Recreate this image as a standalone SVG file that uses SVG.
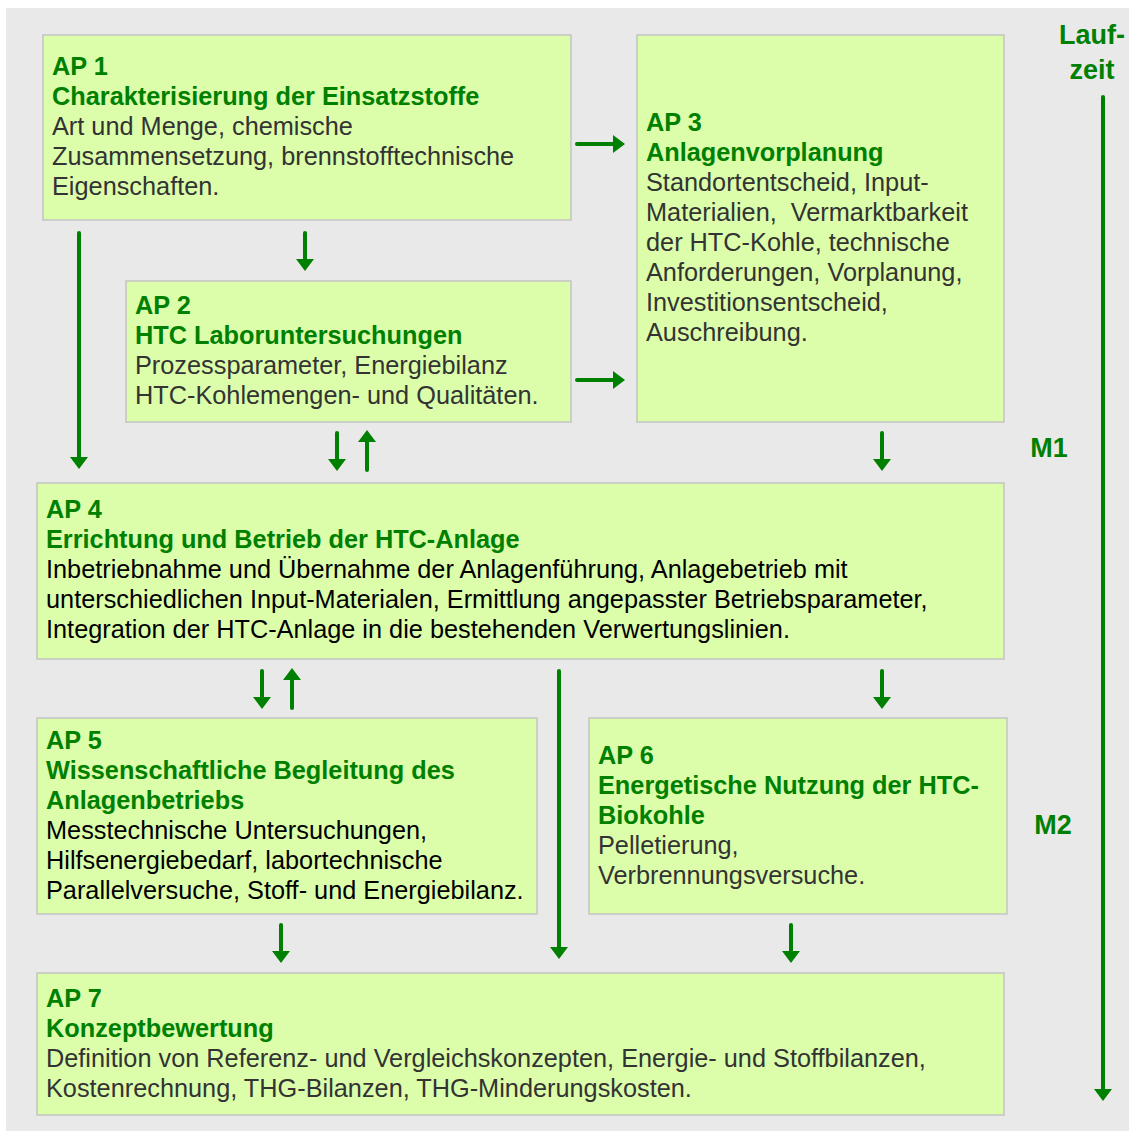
<svg xmlns="http://www.w3.org/2000/svg" width="1129" height="1131" viewBox="0 0 1129 1131">
<style>
.box{fill:#dcfeaa;stroke:#c4c4c4;stroke-width:1.5}
text{font-family:"Liberation Sans",Arial,sans-serif;font-size:25.3px}
.t{fill:#008000;font-weight:bold}
.b{fill:#333333}
.k{fill:#000000}
.lab{fill:#008000;font-weight:bold;font-size:27px}
.ar{stroke:#008000;stroke-width:4;stroke-linecap:round;fill:none;marker-end:url(#ah)}
</style>
<defs>
<marker id="ah" viewBox="0 0 12 18" refX="2" refY="9" markerUnits="userSpaceOnUse" markerWidth="12" markerHeight="18" orient="auto">
<path d="M0,0 L12,9 L0,18 Z" fill="#008000"/>
</marker>
</defs>
<rect x="6" y="8" width="1123" height="1123" fill="#e9e9e9"/>
<g id="ap1">
<rect class="box" x="43" y="35" width="528" height="185"/>
<text class="t" x="52" y="75">AP 1</text>
<text class="t" x="52" y="105">Charakterisierung der Einsatzstoffe</text>
<text class="b" x="52" y="135">Art und Menge, chemische</text>
<text class="b" x="52" y="165">Zusammensetzung, brennstofftechnische</text>
<text class="b" x="52" y="195">Eigenschaften.</text>
</g>
<g id="ap3">
<rect class="box" x="637" y="35" width="367" height="387"/>
<text class="t" x="646" y="131">AP 3</text>
<text class="t" x="646" y="161">Anlagenvorplanung</text>
<text class="b" x="646" y="191">Standortentscheid, Input-</text>
<text class="b" x="646" y="221" xml:space="preserve">Materialien,  Vermarktbarkeit</text>
<text class="b" x="646" y="251">der HTC-Kohle, technische</text>
<text class="b" x="646" y="281">Anforderungen, Vorplanung,</text>
<text class="b" x="646" y="311">Investitionsentscheid,</text>
<text class="b" x="646" y="341">Auschreibung.</text>
</g>
<g id="ap2">
<rect class="box" x="126" y="281" width="445" height="141"/>
<text class="t" x="135" y="314">AP 2</text>
<text class="t" x="135" y="344">HTC Laboruntersuchungen</text>
<text class="b" x="135" y="374">Prozessparameter, Energiebilanz</text>
<text class="b" x="135" y="404">HTC-Kohlemengen- und Qualitäten.</text>
</g>
<g id="ap4">
<rect class="box" x="37" y="483" width="967" height="176"/>
<text class="t" x="46" y="518">AP 4</text>
<text class="t" x="46" y="548">Errichtung und Betrieb der HTC-Anlage</text>
<text class="k" x="46" y="578">Inbetriebnahme und Übernahme der Anlagenführung, Anlagebetrieb mit</text>
<text class="k" x="46" y="608">unterschiedlichen Input-Materialen, Ermittlung angepasster Betriebsparameter,</text>
<text class="k" x="46" y="638">Integration der HTC-Anlage in die bestehenden Verwertungslinien.</text>
</g>
<g id="ap5">
<rect class="box" x="37" y="718" width="500" height="196"/>
<text class="t" x="46" y="749">AP 5</text>
<text class="t" x="46" y="779">Wissenschaftliche Begleitung des</text>
<text class="t" x="46" y="809">Anlagenbetriebs</text>
<text class="k" x="46" y="839">Messtechnische Untersuchungen,</text>
<text class="k" x="46" y="869">Hilfsenergiebedarf, labortechnische</text>
<text class="k" x="46" y="899">Parallelversuche, Stoff- und Energiebilanz.</text>
</g>
<g id="ap6">
<rect class="box" x="589" y="718" width="418" height="196"/>
<text class="t" x="598" y="764">AP 6</text>
<text class="t" x="598" y="794">Energetische Nutzung der HTC-</text>
<text class="t" x="598" y="824">Biokohle</text>
<text class="b" x="598" y="854">Pelletierung,</text>
<text class="b" x="598" y="884">Verbrennungsversuche.</text>
</g>
<g id="ap7">
<rect class="box" x="37" y="973" width="967" height="142"/>
<text class="t" x="46" y="1007">AP 7</text>
<text class="t" x="46" y="1037">Konzeptbewertung</text>
<text class="b" x="46" y="1067">Definition von Referenz- und Vergleichskonzepten, Energie- und Stoffbilanzen,</text>
<text class="b" x="46" y="1097">Kostenrechnung, THG-Bilanzen, THG-Minderungskosten.</text>
</g>
<g id="timeline">
<text class="lab" x="1092" y="44" text-anchor="middle">Lauf-</text>
<text class="lab" x="1092" y="79" text-anchor="middle">zeit</text>
<text class="lab" x="1049" y="457" text-anchor="middle">M1</text>
<text class="lab" x="1053" y="834" text-anchor="middle">M2</text>
</g>
<g id="connectors">
<line class="ar" x1="577" y1="144" x2="615" y2="144"/>
<line class="ar" x1="577" y1="380" x2="615" y2="380"/>
<line class="ar" x1="305" y1="233" x2="305" y2="261"/>
<line class="ar" x1="79" y1="233" x2="79" y2="459"/>
<line class="ar" x1="337" y1="433" x2="337" y2="461"/>
<line class="ar" x1="367" y1="470" x2="367" y2="440"/>
<line class="ar" x1="882" y1="433" x2="882" y2="461"/>
<line class="ar" x1="262" y1="671" x2="262" y2="699"/>
<line class="ar" x1="292" y1="708" x2="292" y2="678"/>
<line class="ar" x1="559" y1="671" x2="559" y2="949"/>
<line class="ar" x1="882" y1="671" x2="882" y2="699"/>
<line class="ar" x1="281" y1="925" x2="281" y2="953"/>
<line class="ar" x1="791" y1="925" x2="791" y2="953"/>
<line class="ar" x1="1103" y1="97" x2="1103" y2="1091"/>
</g>
</svg>
